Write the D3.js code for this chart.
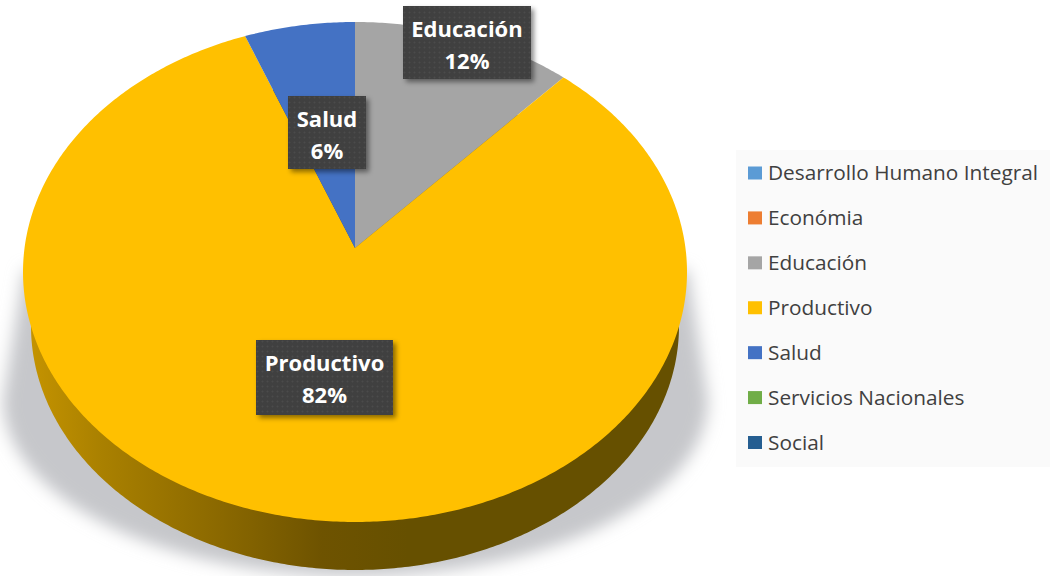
<!DOCTYPE html>
<html>
<head>
<meta charset="utf-8">
<script src="https://cdn.jsdelivr.net/npm/d3@7"></script>
<style>
  html, body { margin: 0; padding: 0; background: #fff; }
  svg { display: block; font-family: "Open Sans", sans-serif; }
</style>
</head>
<body>
<svg width="1050" height="576"></svg>
<script>
const categories = ['Desarrollo Humano Integral', 'Económia', 'Educación', 'Productivo', 'Salud', 'Servicios Nacionales', 'Social'];
const shares = [0, 0, 0.118, 0.823, 0.059, 0, 0];
const colors = ['#5B9BD5', '#ED7D31', '#A5A5A5', '#FFC000', '#4472C4', '#70AD47', '#255E91'];

// label boxes, by category name
const labelBoxes = {
    'Educación': {x: 403, y: 6, w: 128, h: 73},
    'Salud': {x: 288, y: 96, w: 78, h: 73},
    'Productivo': {x: 256, y: 340, w: 137, h: 75}
};

const svg = d3.select('svg');
const data = categories.map((name, i) => ({name, share: shares[i], color: colors[i]}));

// pie top and its lower rim, both seen in perspective
const top3d = {cx: 355, cy: 272, rx: 332, ry: 250, apex: -24};
const low3d = {cx: 355, cy: 326, rx: 324, ry: 244, apex: -24};

const project = (a, e) => {
    const k = e.apex / e.ry;
    const u = Math.sin(a), v = -Math.cos(a);
    const w = 1 + k * v;
    return [
        e.cx + e.rx * Math.sqrt(1 - k * k) * u / w,
        e.cy + (e.ry * v + e.apex) / w
    ];
};

const pie = d3.pie().value(d => d.share).sort(null);
const slices = pie(data).filter(d => d.data.share > 0);

const slicePath = (d, e) => {
    const steps = d3.range(d.startAngle, d.endAngle, 0.01).concat(d.endAngle);
    const centre = [e.cx, e.cy + e.apex];
    return d3.line().curve(d3.curveLinearClosed)([centre, ...steps.map(a => project(a, e))]);
};

const defs = svg.append('defs');

defs.append('filter').attr('id', 'blur')
    .attr('x', '-10%').attr('y', '-10%').attr('width', '120%').attr('height', '120%')
    .append('feGaussianBlur').attr('stdDeviation', 8);

const boxShadow = defs.append('filter').attr('id', 'boxShadow')
    .attr('x', '-10%').attr('y', '-10%').attr('width', '125%').attr('height', '125%');
boxShadow.append('feDropShadow')
    .attr('dx', 3).attr('dy', 3).attr('stdDeviation', 2.5)
    .attr('flood-color', '#000').attr('flood-opacity', 0.45);

const wallGradient = defs.append('linearGradient').attr('id', 'wall')
    .attr('gradientUnits', 'userSpaceOnUse')
    .attr('x1', 23).attr('x2', 687).attr('y1', 0).attr('y2', 0);
[[0, '#c79500'], [0.12, '#a98000'], [0.3, '#8a6800'], [0.45, '#6e5300'], [0.58, '#665000'], [1, '#665000']]
    .forEach(s => wallGradient.append('stop').attr('offset', s[0]).attr('stop-color', s[1]));

const dots = defs.append('pattern').attr('id', 'dots')
    .attr('patternUnits', 'userSpaceOnUse').attr('width', 5).attr('height', 5);
dots.append('rect').attr('width', 5).attr('height', 5).attr('fill', '#404040');
dots.append('circle').attr('cx', 1.5).attr('cy', 1.5).attr('r', 0.9).attr('fill', '#4c4c4c');

// soft shadow under the pie
const shadowLeft = 3, shadowRight = 708;
svg.append('path')
    .attr('d', `M24,270 L${shadowLeft},400 A352,176 0 0 0 ${shadowRight},400 L688,270 Z`)
    .attr('fill', '#c6c7cb')
    .attr('filter', 'url(#blur)');

// side wall
svg.append('g').selectAll('path').data(slices).join('path')
    .attr('d', d => slicePath(d, low3d))
    .attr('fill', d => d.data.name === 'Productivo' ? 'url(#wall)' : d3.color(d.data.color).darker(1.4));

// top face
svg.append('g').selectAll('path').data(slices).join('path')
    .attr('d', d => slicePath(d, top3d))
    .attr('fill', d => d.data.color);

// data labels
const percent = d3.format('.0%');
const labels = svg.append('g').selectAll('g').data(slices).join('g')
    .attr('transform', d => `translate(${labelBoxes[d.data.name].x},${labelBoxes[d.data.name].y})`);

labels.append('rect')
    .attr('width', d => labelBoxes[d.data.name].w)
    .attr('height', d => labelBoxes[d.data.name].h)
    .attr('fill', 'url(#dots)')
    .attr('filter', 'url(#boxShadow)');

labels.append('text')
    .attr('x', d => labelBoxes[d.data.name].w / 2)
    .attr('y', 31)
    .attr('text-anchor', 'middle')
    .attr('fill', '#fff')
    .attr('font-size', 22)
    .attr('font-weight', 700)
    .text(d => d.data.name);

labels.append('text')
    .attr('x', d => labelBoxes[d.data.name].w / 2)
    .attr('y', 63)
    .attr('text-anchor', 'middle')
    .attr('fill', '#fff')
    .attr('font-size', 22)
    .attr('font-weight', 700)
    .text(d => percent(d.data.share));

// legend
svg.append('rect')
    .attr('x', 736).attr('y', 150).attr('width', 314).attr('height', 317)
    .attr('fill', '#fafafa');

const legendY = d3.scalePoint().domain(categories).range([173, 442.5]);

const legend = svg.append('g').selectAll('g').data(data).join('g')
    .attr('transform', d => `translate(748,${legendY(d.name)})`);

legend.append('rect')
    .attr('y', -6.5).attr('width', 14).attr('height', 13)
    .attr('fill', d => d.color);

legend.append('text')
    .attr('x', 20).attr('y', 7)
    .attr('font-size', 20.8)
    .attr('fill', '#404040')
    .text(d => d.name);
</script>
</body>
</html>
